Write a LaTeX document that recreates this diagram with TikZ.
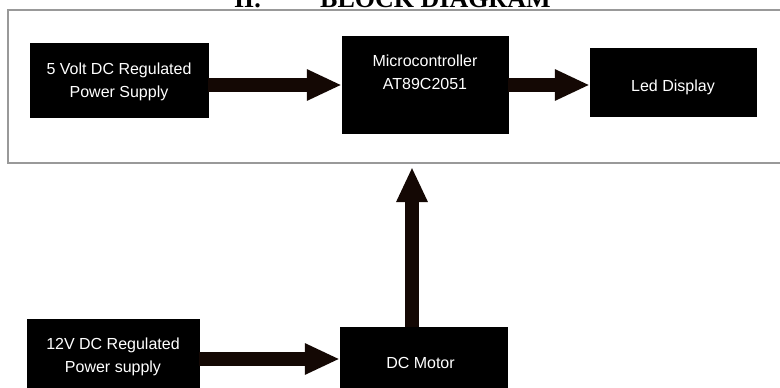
\documentclass[tikz,border=0pt]{standalone}
\usepackage{fontspec}
\setmainfont{Liberation Sans}
\newfontfamily\titlefont{Liberation Serif}
\usetikzlibrary{arrows.meta}
\definecolor{arrowdark}{RGB}{20,8,4}
\begin{document}
\begin{tikzpicture}[x=1pt,y=-1pt,
  blk/.style={draw=black,fill=black,minimum width=#1,inner sep=0pt},
  lbl/.style={text=white,font=\fontsize{16}{23}\selectfont,align=center,inner sep=0pt},
  fat/.style={line width=14pt,draw=arrowdark,-{Triangle[length=35pt,width=29pt]}},
  ttl/.style={font=\titlefont\bfseries\fontsize{26}{28}\selectfont,inner sep=0pt}]
\useasboundingbox (0,0) rectangle (780,388);
\clip (0,0) rectangle (780,388);
% title (cut off at top, as in the reference)
\node[ttl,anchor=base east] (tnum) at (261,7) {II.};
\node[ttl,anchor=base west] (ttext) at (320,7) {BLOCK DIAGRAM};
% frame
\draw[draw=black!40,line width=1.5pt] (8,10) rectangle (800,163);
% blocks
\node[blk=178pt,minimum height=74pt] (p5) at (119,80) {};
\node[blk=166pt,minimum height=97pt] (mc) at (425,84.5) {};
\node[blk=166pt,minimum height=68pt] (led) at (673,82) {};
\node[blk=172pt,minimum height=81pt] (p12) at (113,359.5) {};
\node[blk=167pt,minimum height=73pt] (dcm) at (423.5,363.5) {};
% labels
\node[lbl] (tp5) at ([yshift=-2pt]p5.center) {5 Volt DC Regulated\\Power Supply};
\node[lbl] (tmc) at ([yshift=12pt]mc.center) {Microcontroller\\AT89C2051};
\node[lbl] (tled) at ([yshift=-5pt]led.center) {Led Display};
\node[lbl] (tp12) at ([yshift=3pt]p12.center) {12V DC Regulated\\Power supply};
\node[lbl] (tdcm) at ([xshift=-3pt,yshift=1pt]dcm.center) {DC Motor};
% arrows
\coordinate (a1) at (0,85);
\coordinate (a3) at (0,359);
\coordinate (av) at (412,0);
\coordinate (vtop) at (412,167);
\draw[fat] (p5.east |- a1) -- (mc.west |- a1);
\draw[fat] (mc.east |- a1) -- (led.west |- a1);
\draw[fat] (p12.east |- a3) -- (dcm.west |- a3);
\draw[fat] (dcm.north -| av) -- (vtop);
\end{tikzpicture}
\end{document}
